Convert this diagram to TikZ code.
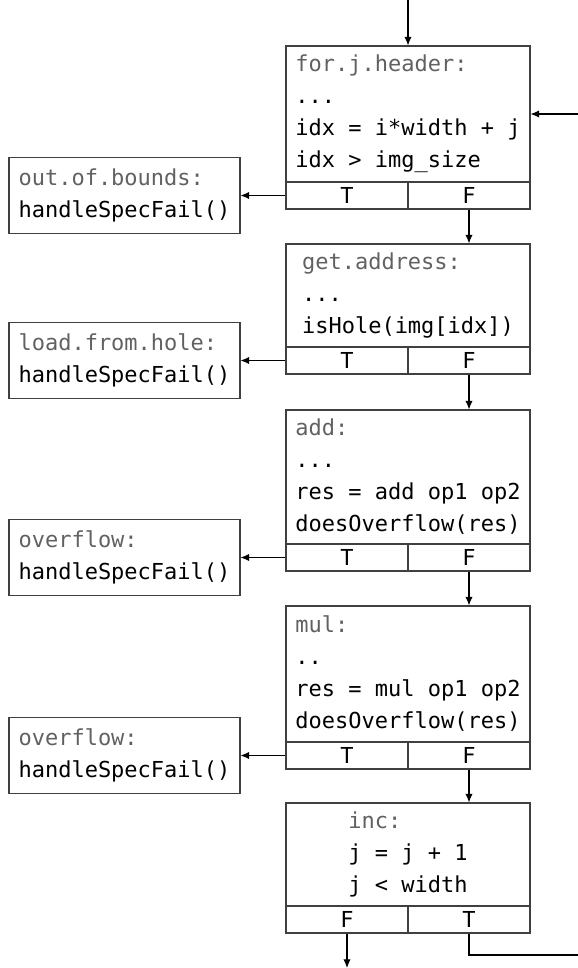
\documentclass[tikz,border=0pt]{standalone}
\usepackage{fontspec}
\setmainfont{DejaVu Sans Mono}
\usepackage{tikz}
\usetikzlibrary{shapes, arrows.meta, positioning}
\definecolor{dimgray}{rgb}{0.38,0.38,0.38}
\definecolor{frame}{rgb}{0.25,0.25,0.25}
\tikzstyle{block} = [draw=frame, rectangle, minimum width=183pt, inner sep=0pt, align=left]
\tikzstyle{cell}  = [draw=frame, rectangle, minimum width=91.5pt, minimum height=20.25pt, inner sep=0pt]
\tikzstyle{fail}  = [draw=frame, rectangle, minimum width=173.25pt, minimum height=57pt, inner sep=0pt, align=left]
\tikzstyle{flow}  = [-{Latex[length=6.5pt, width=5.5pt]}]

\begin{document}
\begin{tikzpicture}[x=0.75pt, y=-0.75pt, line width=0.8pt, font=\fontsize{16.5pt}{24pt}\selectfont]
\useasboundingbox (0,0) rectangle (578,968);

% blocks
\node [block, minimum height=102pt]   at (408, 114  ) (hdr)  {\textcolor{dimgray}{for.j.header:}\\...\\idx = i*width + j\\idx > img\_size};
\node [cell]                          at (347, 195.5) (hdrT) {T};
\node [cell]                          at (469, 195.5) (hdrF) {F};

\node [block, minimum height=77.25pt] at (408, 295.5) (addr)  {\textcolor{dimgray}{get.address:}\\...\\isHole(img[idx])};
\node [cell]                          at (347, 360.5) (addrT) {T};
\node [cell]                          at (469, 360.5) (addrF) {F};

\node [block, minimum height=100.5pt] at (408, 477  ) (add)  {\textcolor{dimgray}{add:}\\...\\res = add op1 op2\\doesOverflow(res)};
\node [cell]                          at (347, 557.5) (addT) {T};
\node [cell]                          at (469, 557.5) (addF) {F};

\node [block, minimum height=102pt]   at (408, 674  ) (mul)  {\textcolor{dimgray}{mul:}\\..\\res = mul op1 op2\\doesOverflow(res)};
\node [cell]                          at (347, 755.5) (mulT) {T};
\node [cell]                          at (469, 755.5) (mulF) {F};

\node [block, minimum height=77.25pt] at (408, 854.5) (inc)  {\textcolor{dimgray}{inc:}\\j = j + 1\\j < width};
\node [cell]                          at (347, 919.5) (incF) {F};
\node [cell]                          at (469, 919.5) (incT) {T};

% failure blocks
\node [fail] at (124.5, 195.5) (oob)  {\textcolor{dimgray}{out.of.bounds:}\\handleSpecFail()};
\node [fail] at (124.5, 360.5) (hole) {\textcolor{dimgray}{load.from.hole:}\\handleSpecFail()};
\node [fail] at (124.5, 557.5) (ovf1) {\textcolor{dimgray}{overflow:}\\handleSpecFail()};
\node [fail] at (124.5, 755.5) (ovf2) {\textcolor{dimgray}{overflow:}\\handleSpecFail()};

% loose ends
\coordinate (entry) at (408, 0  );
\coordinate (back)  at (578, 114);
\coordinate (loop)  at (578, 955);
\coordinate (exit)  at (347, 968);

% edges
\path [flow] (entry) edge (hdr.north)
             (back)  edge (hdr.east)
             (hdrT)  edge (oob)
             (hdrF)  edge (hdrF |- addr.north)
             (addrT) edge (hole)
             (addrF) edge (addrF |- add.north)
             (addT)  edge (ovf1)
             (addF)  edge (addF |- mul.north)
             (mulT)  edge (ovf2)
             (mulF)  edge (mulF |- inc.north)
             (incF)  edge (exit);
\draw (incT) |- (loop);

\end{tikzpicture}
\end{document}
